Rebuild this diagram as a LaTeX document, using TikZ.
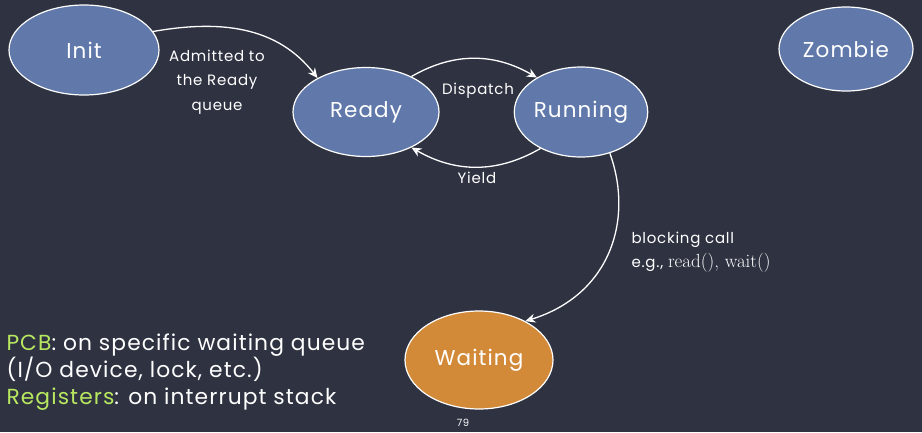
\documentclass[tikz,border=0pt]{standalone}
\usepackage{fontspec}
\setmainfont{Poppins}[LetterSpace=5]
\newfontfamily\codefont{Latin Modern Roman}
\usetikzlibrary{shapes.geometric,arrows.meta}

\definecolor{board}{HTML}{2E3241}
\definecolor{statefill}{HTML}{6079AA}
\definecolor{waitfill}{HTML}{D28A38}
\definecolor{keyword}{HTML}{B8E860}

\tikzset{
  state/.style={ellipse, draw=white, line width=1.2pt, fill=statefill,
    text=white, inner sep=0pt, font=\fontsize{21.5}{24}\selectfont},
  trans/.style={draw=white, line width=1.3pt,
    -{Stealth[length=10pt,width=9pt,fill=white!80!gray]}},
  edgetext/.style={text=white, font=\fontsize{15}{24.5}\selectfont, align=center},
  notetext/.style={text=white, font=\fontsize{21.8}{27}\selectfont, align=left, anchor=west},
}

\begin{document}
\begin{tikzpicture}[x=1pt, y=-1pt]
  \fill[board] (0,0) rectangle (922,432);
  \useasboundingbox (0,0) rectangle (922,432);

  % process states
  \node[state, minimum width=150pt, minimum height=90pt] (init)    at (84,50)   {Init};
  \node[state, minimum width=146pt, minimum height=89pt] (ready)   at (366,112) {Ready};
  \node[state, minimum width=128pt, minimum height=90pt] (running) at (581,112) {Running};
  \node[state, minimum width=134pt, minimum height=84pt] (zombie)  at (846,49)  {Zombie};
  \node[state, fill=waitfill, minimum width=148pt, minimum height=98pt] (waiting) at (479,360) {Waiting};

  % transitions
  \draw[trans] (init.15) to[out=10, in=128] (ready.145);
  \draw[trans] (ready.38) to[out=30, in=150] (running.142);
  \draw[trans] (running.222) to[out=-150, in=-30] (ready.-38);
  \draw[trans] (running.-55) .. controls (634,220) and (610,295) .. (waiting.40);

  % transition labels
  \node[edgetext] (admit) at (217,82) {Admitted to\\the Ready\\queue};
  \node[edgetext] (dispatch) at (478,91) {Dispatch};
  \node[edgetext] (yield) at (477,178) {Yield};
  \node[edgetext, align=left, anchor=west] (block) at (628,252)
    {blocking call\\e.g., {\codefont\fontsize{19}{24}\selectfont read(), wait()}};

  % notes on where the waiting process is kept
  \node[notetext] (notes) at (3,372)
    {\textcolor{keyword}{PCB}: on specific waiting queue\\
     (I/O device, lock, etc.)\\
     \textcolor{keyword}{Registers}: on interrupt stack};

  \node[text=white, font=\fontsize{10}{11}\selectfont] (page) at (463,423) {79};
\end{tikzpicture}
\end{document}
